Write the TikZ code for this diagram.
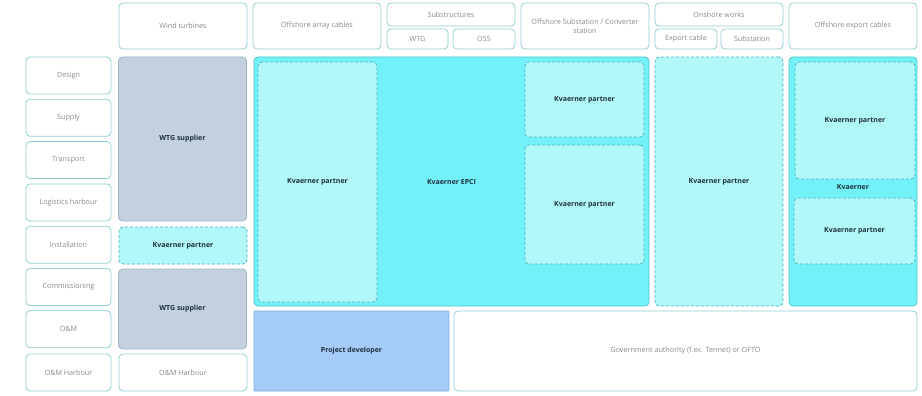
\documentclass[tikz,border=0pt]{standalone}
\usepackage{fontspec}
\setmainfont{Open Sans}
\usepackage{tikz}

\definecolor{boxline}{HTML}{92CDD1}
\definecolor{labeltext}{HTML}{8A8A8A}
\definecolor{darktext}{HTML}{1F2F3F}
\definecolor{epcifill}{HTML}{72F2F8}
\definecolor{epciline}{HTML}{4FC4CC}
\definecolor{partnerfill}{HTML}{B0F8FA}
\definecolor{partnerline}{HTML}{4FB3BD}
\definecolor{wtgfill}{HTML}{C2D0DF}
\definecolor{wtgline}{HTML}{9FB6C9}
\definecolor{devfill}{HTML}{A5CBF7}
\definecolor{devline}{HTML}{7DB3DD}

\begin{document}
\begin{tikzpicture}[x=1pt,y=-1pt]
        \tikzset{
            cell/.style={rectangle, rounded corners=4pt, inner sep=1pt, align=center,
                line width=0.8pt, font=\fontsize{7.2}{9}\selectfont},
            plain/.style={cell, draw=boxline, fill=white, text=labeltext},
            wtgbox/.style={cell, draw=wtgline, fill=wtgfill, text=darktext, font=\fontsize{7}{9}\selectfont\bfseries},
            epcibox/.style={cell, draw=epciline, fill=epcifill, text=darktext, font=\fontsize{7}{9}\selectfont\bfseries},
            partnerbox/.style={cell, draw=partnerline, fill=partnerfill, dash pattern=on 3pt off 2pt, text=darktext, font=\fontsize{7}{9}\selectfont\bfseries},
            devbox/.style={cell, rounded corners=1pt, draw=devline, fill=devfill, text=darktext, font=\fontsize{7}{9}\selectfont\bfseries}
        }
        \useasboundingbox (0,0) rectangle (922,396);

        % column heads
        \node[plain, minimum width=128, minimum height=46] (WindHead)   at (183,26)    {Wind turbines};
        \node[plain, minimum width=128, minimum height=46] (ArrayHead)  at (317,26)    {Offshore array cables};
        \node[plain, minimum width=128, minimum height=23] (SubsHead)   at (451,14.5)  {Substructures};
        \node[plain, minimum width=61,  minimum height=20] (SubsWTG)    at (417.5,39)  {WTG};
        \node[plain, minimum width=62,  minimum height=20] (SubsOSS)    at (484,39)    {OSS};
        \node[plain, minimum width=128, minimum height=46] (OSSHead)    at (585,26)    {Offshore Substation / Converter\\station};
        \node[plain, minimum width=128, minimum height=23] (OnHead)     at (719,14.5)  {Onshore works};
        \node[plain, minimum width=62,  minimum height=20] (OnCable)    at (686,39)    {Export cable};
        \node[plain, minimum width=62,  minimum height=20] (OnStation)  at (752,39)    {Substation};
        \node[plain, minimum width=128, minimum height=46] (ExportHead) at (853,26)    {Offshore export cables};

        % phases
        \node[plain, minimum width=85, minimum height=37] (Design)     at (68.5,75.5)  {Design};
        \node[plain, minimum width=85, minimum height=37] (Supply)     at (68.5,117.8) {Supply};
        \node[plain, minimum width=85, minimum height=37] (Transport)  at (68.5,160.1) {Transport};
        \node[plain, minimum width=85, minimum height=37] (Logistics)  at (68.5,202.4) {Logistics harbour};
        \node[plain, minimum width=85, minimum height=37] (Install)    at (68.5,244.7) {Installation};
        \node[plain, minimum width=85, minimum height=37] (Commission) at (68.5,287)   {Commissioning};
        \node[plain, minimum width=85, minimum height=37] (OM)         at (68.5,329.3) {O\&M};
        \node[plain, minimum width=85, minimum height=37] (OMHarbour)  at (68.5,372.5) {O\&M Harbour};

        % wind turbines
        \node[wtgbox,     minimum width=128, minimum height=164] (WTG1) at (182.5,139)   {WTG supplier};
        \node[partnerbox, minimum width=128, minimum height=37]  (KP0)  at (183,245.5)   {Kvaerner partner};
        \node[wtgbox,     minimum width=128, minimum height=80]  (WTG2) at (182.5,309)   {WTG supplier};
        \node[plain,      minimum width=128, minimum height=37]  (WTGOM) at (183,372.5)  {O\&M Harbour};

        % EPCI block
        \node[epcibox,    minimum width=395, minimum height=249] (EPCI) at (451.5,181.5) {Kvaerner EPCI};
        \node[partnerbox, minimum width=119, minimum height=240] (KP1)  at (317.5,182)   {Kvaerner partner};
        \node[partnerbox, minimum width=119, minimum height=75]  (KP2)  at (584.5,99.5)  {Kvaerner partner};
        \node[partnerbox, minimum width=119, minimum height=119] (KP3)  at (584.5,204.5) {Kvaerner partner};

        % onshore and export
        \node[partnerbox, minimum width=128, minimum height=249] (KP4)  at (719,181.5)   {Kvaerner partner};
        \node[epcibox,    minimum width=128, minimum height=249,
              label={[font=\fontsize{7}{9}\selectfont\bfseries, text=darktext, yshift=-5.5]center:Kvaerner}] (KvExport) at (853,181.5) {};
        \node[partnerbox, minimum width=120, minimum height=117] (KP5)  at (855,120.5)   {Kvaerner partner};
        \node[partnerbox, minimum width=121, minimum height=66]  (KP6)  at (854.5,231)   {Kvaerner partner};

        % bottom row
        \node[devbox, minimum width=195, minimum height=80] (Developer) at (351.5,351) {Project developer};
        \node[plain,  minimum width=463, minimum height=80] (Government) at (685.5,351) {Government authority (f.ex. Tennet) or OFTO};
\end{tikzpicture}
\end{document}
